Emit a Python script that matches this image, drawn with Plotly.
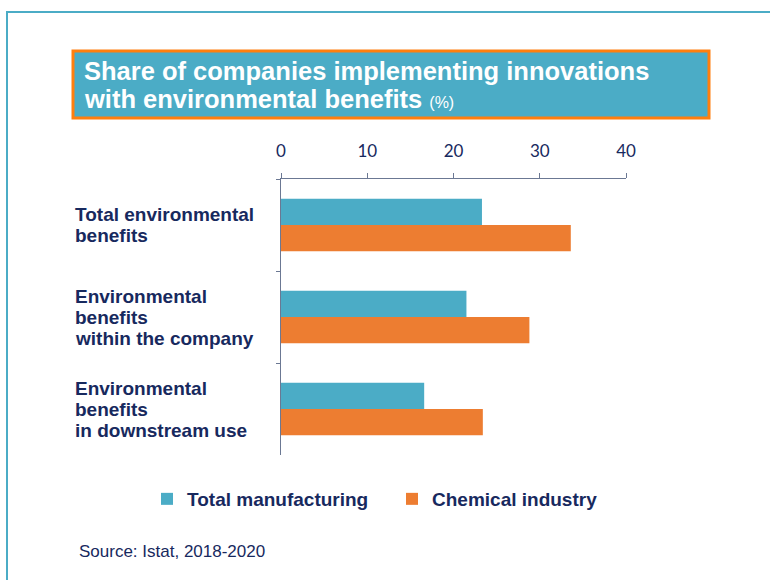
import plotly.graph_objects as go

categories = [["Total environmental", "benefits"],
              ["Environmental", "benefits", "within the company"],
              ["Environmental", "benefits", "in downstream use"]]
cat_keys = ["Total", "Within", "Downstream"]
series_names = ["Total manufacturing", "Chemical industry"]
total_manufacturing = [23.3, 21.5, 16.6]
chemical_industry = [33.6, 28.8, 23.4]
x_ticks = [0, 10, 20, 30, 40]
title_lines = ["<b>Share of companies implementing innovations</b>",
               "<b>with environmental benefits</b> <span style='font-size:16px'>(%)</span>"]

W, H = 770, 580
L, R, T, B = 281, 626, 179, 455
NAVY = "#17295E"
TEAL = "#4BACC6"
ORANGE = "#ED7D31"
AXIS = "#6B7893"
FONT = "Liberation Sans, Arial"

def px(X):
    return (X - L) / (R - L)

def py(Y):
    return (B - Y) / (B - T)

fig = go.Figure()
fig.add_trace(go.Bar(y=cat_keys, x=total_manufacturing, orientation="h",
                     name=series_names[0], marker=dict(color=TEAL, line=dict(width=0))))
fig.add_trace(go.Bar(y=cat_keys, x=chemical_industry, orientation="h",
                     name=series_names[1], marker=dict(color=ORANGE, line=dict(width=0))))

shapes = [
    dict(type="line", xref="paper", yref="paper", x0=px(6), x1=px(772), y0=py(12), y1=py(12),
         line=dict(color=TEAL, width=2)),
    dict(type="line", xref="paper", yref="paper", x0=px(7), x1=px(7), y0=py(12), y1=py(582),
         line=dict(color=TEAL, width=2)),
    dict(type="rect", xref="paper", yref="paper", x0=px(73), x1=px(709), y0=py(51), y1=py(118),
         fillcolor=TEAL, line=dict(color="#FF7F0E", width=3)),
]

annotations = []
for i, line in enumerate(title_lines):
    annotations.append(dict(xref="paper", yref="paper", x=px(82), y=py(71 + 28 * i),
                            xanchor="left", yanchor="middle", align="left", showarrow=False,
                            text=line, font=dict(family=FONT, size=25.5, color="white")))
annotations.append(dict(xref="paper", yref="paper", x=px(77), y=py(551), xanchor="left",
                        yanchor="middle", showarrow=False, text="Source: Istat, 2018-2020",
                        font=dict(family=FONT, size=17, color=NAVY)))
LINE_H = 21
for key, lines in zip(cat_keys, categories):
    n = len(lines)
    for j, line in enumerate(lines):
        shift = ((n - 1) / 2 - j) * LINE_H
        annotations.append(dict(xref="paper", yref="y", x=px(73), y=key, yshift=shift,
                                xanchor="left", yanchor="middle", align="left",
                                showarrow=False, text="<b>" + line + "</b>",
                                font=dict(family=FONT, size=19, color=NAVY)))

fig.update_layout(
    width=W, height=H,
    margin=dict(l=L, r=W - R, t=T, b=H - B, pad=0),
    paper_bgcolor="white", plot_bgcolor="white",
    barmode="group", bargap=0.43, bargroupgap=0,
    showlegend=True,
    legend=dict(orientation="h", x=px(147), y=py(499), xanchor="left", yanchor="middle",
                entrywidth=200, entrywidthmode="pixels", traceorder="normal",
                font=dict(family=FONT, size=19, color=NAVY, weight="bold"),
                bgcolor="rgba(0,0,0,0)"),
    xaxis=dict(side="top", range=[0, 40], tickvals=x_ticks, showgrid=False, zeroline=False,
               showline=True, linecolor=AXIS, linewidth=1, ticks="outside", ticklen=5,
               tickcolor=AXIS, tickfont=dict(family="Lato", size=17, color=NAVY),
               ticklabelstandoff=9, fixedrange=True),
    yaxis=dict(autorange="reversed", showticklabels=False, showgrid=False, zeroline=False,
               showline=True, linecolor=AXIS, linewidth=1, ticks="outside", ticklen=4,
               tickcolor=AXIS, tickson="boundaries", fixedrange=True),
    shapes=shapes, annotations=annotations,
)

fig.write_html("out.html")
